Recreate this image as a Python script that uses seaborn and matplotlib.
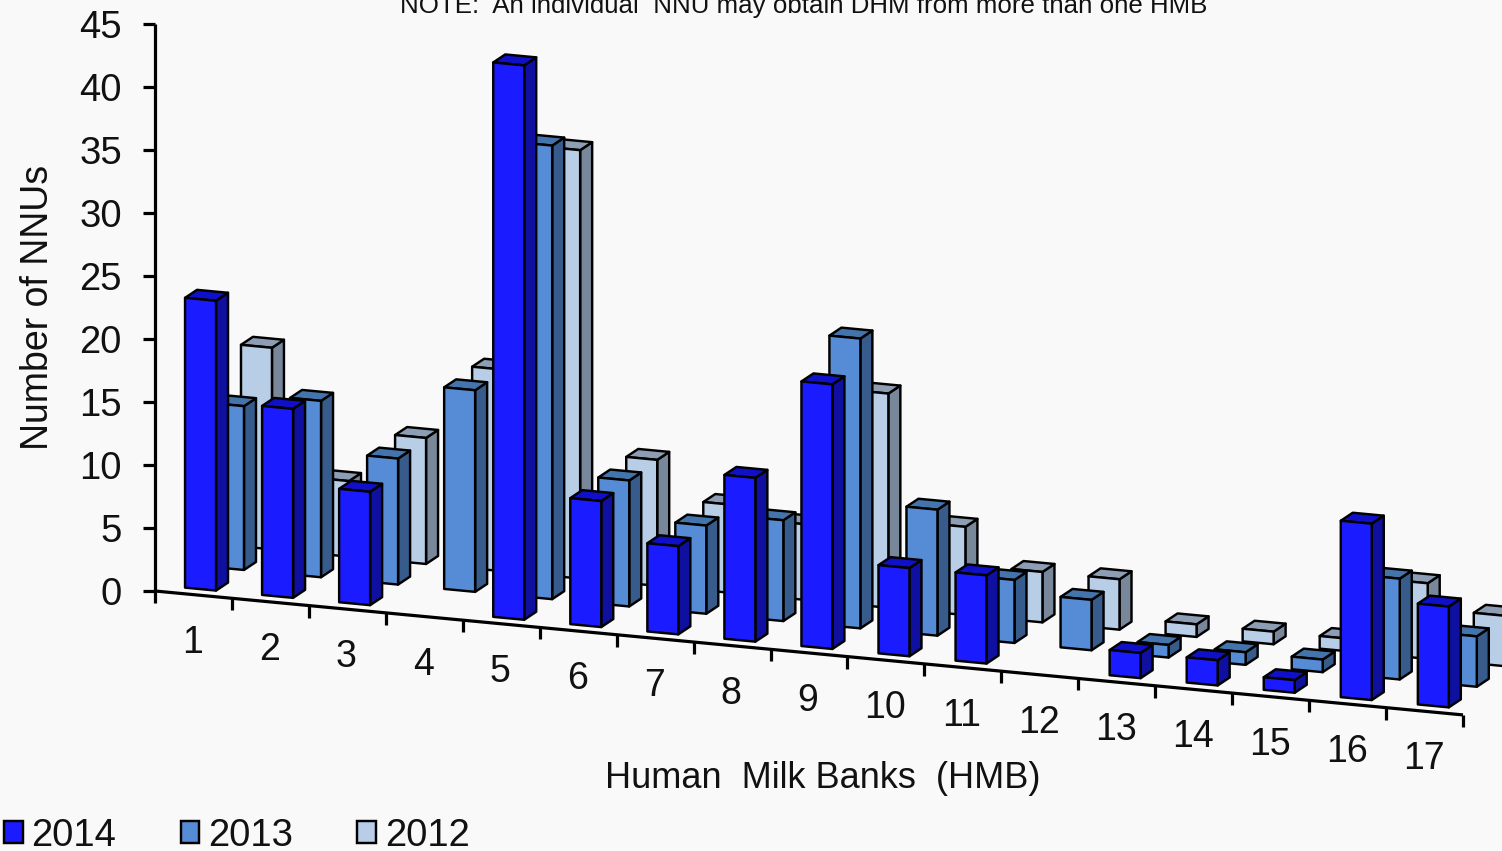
import numpy as np
import pandas as pd
import matplotlib
matplotlib.use("Agg")
import matplotlib.pyplot as plt
from matplotlib.patches import Polygon, Patch
from matplotlib.transforms import Affine2D
import seaborn as sns

# Neonatal units supplied by each human milk bank, per year
banks = [str(i) for i in range(1, 18)]
years = ["2014", "2013", "2012"]
nnus_2014 = [23, 15, 9, 0, 44, 10, 7, 13, 21, 7, 7, 0, 2, 2, 1, 14, 8]
nnus_2013 = [13, 14, 10, 16, 36, 10, 7, 8, 23, 10, 5, 4, 1, 1, 1, 8, 4]
nnus_2012 = [16, 6, 10, 16, 34, 10, 7, 6, 17, 7, 4, 4, 1, 1, 1, 6, 4]
value_ticks = [0, 5, 10, 15, 20, 25, 30, 35, 40, 45]

front_colors = ["#1B1BFF", "#568CD6", "#B8CDE6"]
side_colors = ["#1010A0", "#375C8C", "#78889A"]
top_colors = ["#1010C8", "#4474AC", "#8C9DB4"]
background = "#F9F9F9"

sns.set_theme(style="white", rc={"axes.facecolor": background, "figure.facecolor": background})
plt.rcParams["font.family"] = ["Liberation Sans", "DejaVu Sans"]

table = pd.DataFrame({
    "bank": banks * 3,
    "year": np.repeat(years, len(banks)),
    "nnus": nnus_2014 + nnus_2013 + nnus_2012,
})

fig = plt.figure(figsize=(15.02, 8.51), dpi=100, facecolor=background)
ax = fig.add_axes([0, 0, 1, 1])

# Seaborn lays out the dodged bars; they are then sheared into the oblique view
DODGE = 0.363
sns.barplot(data=table, x="bank", y="nnus", hue="year", hue_order=years, order=banks,
            palette=front_colors, saturation=1, width=DODGE * 3, errorbar=None,
            legend=False, ax=ax)
ax.set_xlim(0, 1502)
ax.set_ylim(851, 0)
ax.set_axis_off()

STEP_X, STEP_Y, UNIT = 77.05, 7.3, 12.6
ROW_SHIFT = 23.25
BAR_WIDTH = 0.402
DEPTH = np.array([12.0, -8.0])
EDGE_WIDTH = 1.75
EDGE = dict(edgecolor="black", linewidth=EDGE_WIDTH, joinstyle="round")


def oblique(row=0.0, floor=0.0):
    """Map (bank position, value) onto the canvas for a given depth row."""
    return Affine2D.from_values(STEP_X, STEP_Y, 0, -UNIT, 228.5, 568.5 + floor + row * ROW_SHIFT)


for h, container in enumerate(ax.containers):
    view = oblique(1 - h)
    for c, bar in enumerate(container):
        value = bar.get_height()
        if value <= 0:
            bar.set_visible(False)
            continue
        mid = bar.get_x() + bar.get_width() / 2
        left, right = mid - BAR_WIDTH / 2, mid + BAR_WIDTH / 2
        bar.set_x(left)
        bar.set_width(BAR_WIDTH)
        bar.set_transform(view + ax.transData)
        bar.set_edgecolor("black")
        bar.set_linewidth(EDGE_WIDTH)
        bar.set_joinstyle("round")
        bar.set_clip_on(False)
        base_z = (2 - h) * 100 + c * 3
        bar.set_zorder(base_z + 2)

        bl, br, tr, tl = view.transform([(left, 0), (right, 0), (right, value), (left, value)])
        ax.add_patch(Polygon([br, tr, tr + DEPTH, br + DEPTH], closed=True,
                             facecolor=side_colors[h], zorder=base_z, **EDGE))
        ax.add_patch(Polygon([tl, tr, tr + DEPTH, tl + DEPTH], closed=True,
                             facecolor=top_colors[h], zorder=base_z + 1, **EDGE))

# Axes drawn along the floor edge and the back wall
ink = dict(color="black", linewidth=2.3, solid_capstyle="butt", zorder=600)
floor_view = oblique(0, floor=29.46)
edges = np.linspace(-0.954, 16.022, len(banks) + 1)
floor_pts = floor_view.transform(np.column_stack([edges, np.zeros_like(edges)]))
ax.plot(floor_pts[:, 0], floor_pts[:, 1], **ink)
for x, y in floor_pts:
    ax.plot([x, x], [y, y + 12], **ink)

wall = floor_view.transform([(edges[0], v) for v in value_ticks])
ax.plot(wall[:, 0], wall[:, 1], **ink)
for (x, y), v in zip(wall, value_ticks):
    ax.plot([x - 12, x], [y, y], **ink)
    ax.text(x - 33, y, str(v), ha="right", va="center_baseline", fontsize=27.5, color="#111111")

mids = (edges[:-1] + edges[1:]) / 2
for (x, y), name in zip(floor_view.transform(np.column_stack([mids, np.zeros_like(mids)])), banks):
    ax.text(x - 1, y + 44, name, ha="center", va="center_baseline", fontsize=27, color="#111111")

ax.text(823, 775, "Human  Milk Banks  (HMB)", ha="center", va="center_baseline",
        fontsize=26, color="#111111")
ax.text(38, 307, "Number of NNUs", rotation=90, ha="center", va="center",
        fontsize=27, color="#111111")
ax.text(804, 13, "NOTE:  An individual  NNU may obtain DHM from more than one HMB",
        ha="center", va="baseline", fontsize=18.6, color="#111111")

handles = [Patch(facecolor=f, edgecolor="black", linewidth=EDGE_WIDTH) for f in front_colors]
ax.legend(handles, years, ncol=3, loc="lower left", bbox_to_anchor=(4 / 1502, -0.003), frameon=False,
          fontsize=27.5, handlelength=0.49, handleheight=0.49, handletextpad=0.23,
          columnspacing=1.68, borderaxespad=0, borderpad=0, labelcolor="#111111")

fig.savefig("out.png", dpi=100, facecolor=background)
